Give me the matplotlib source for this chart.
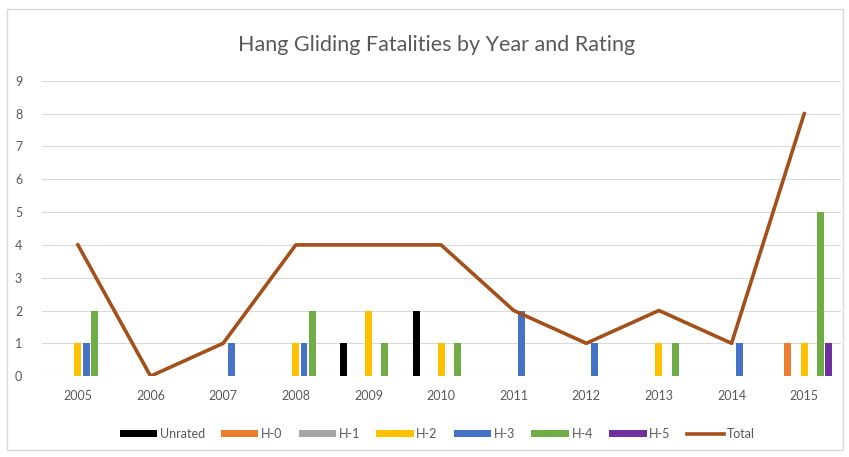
import numpy as np
import matplotlib.pyplot as plt
from matplotlib.patches import Rectangle
plt.rcParams['font.family'] = ['Lato', 'DejaVu Sans']

years = ['2005', '2006', '2007', '2008', '2009', '2010',
         '2011', '2012', '2013', '2014', '2015']
unrated = [0, 0, 0, 0, 1, 2, 0, 0, 0, 0, 0]
h0 = [0, 0, 0, 0, 0, 0, 0, 0, 0, 0, 1]
h1 = [0, 0, 0, 0, 0, 0, 0, 0, 0, 0, 0]
h2 = [1, 0, 0, 1, 2, 1, 0, 0, 1, 0, 1]
h3 = [1, 0, 1, 1, 0, 0, 2, 1, 0, 1, 0]
h4 = [2, 0, 0, 2, 1, 1, 0, 0, 1, 0, 5]
h5 = [0, 0, 0, 0, 0, 0, 0, 0, 0, 0, 1]
total = [4, 0, 1, 4, 4, 4, 2, 1, 2, 1, 8]

series = [
    ('Unrated', unrated, '#000000'),
    ('H-0', h0, '#ED7D31'),
    ('H-1', h1, '#A5A5A5'),
    ('H-2', h2, '#FFC000'),
    ('H-3', h3, '#4472C4'),
    ('H-4', h4, '#70AD47'),
    ('H-5', h5, '#7030A0'),
]


def main():
    fig = plt.figure(figsize=(8.49, 4.57), dpi=100)
    ax = fig.add_axes([0.049, 0.177, 0.941, 0.646])

    x = np.arange(len(years))
    step = 0.113
    handles = []
    for i, (name, vals, col) in enumerate(series):
        h = ax.bar(x + (i - 3) * step, vals, width=0.095, color=col, label=name, zorder=3)
        handles.append(h)
    ln, = ax.plot(x, total, color='#A3501A', lw=2.6, label='Total', zorder=4)
    handles.append(ln)

    ax.set_xlim(-0.5, len(years) - 0.5)
    ax.set_ylim(0, 9)
    ax.set_yticks(range(10))
    ax.set_xticks(x)
    ax.set_xticklabels(years)
    ax.tick_params(length=0, labelsize=9, colors='#595959')
    ax.tick_params(axis='x', pad=10)
    ax.tick_params(axis='y', pad=14)
    ax.grid(axis='y', color='#D9D9D9', lw=0.8, zorder=0)
    for s in ax.spines.values():
        s.set_visible(False)

    fig.text(0.514, 0.902, 'Hang Gliding Fatalities by Year and Rating',
             ha='center', va='center', fontsize=15.5, color='#595959')

    leg = ax.legend(handles=handles, loc='center', bbox_to_anchor=(0.515, 0.05),
                    bbox_transform=fig.transFigure, ncol=8, frameon=False, fontsize=9,
                    handlelength=3.0, handleheight=0.5, columnspacing=1.3, handletextpad=0.2)
    for t in leg.get_texts():
        t.set_color('#595959')

    fig.patches.append(Rectangle((0.008, 0.015), 0.985, 0.965, transform=fig.transFigure,
                                 fill=False, edgecolor='#D9D9D9', lw=1))
    fig.savefig('out.png', dpi=100)


if __name__ == '__main__':
    main()
